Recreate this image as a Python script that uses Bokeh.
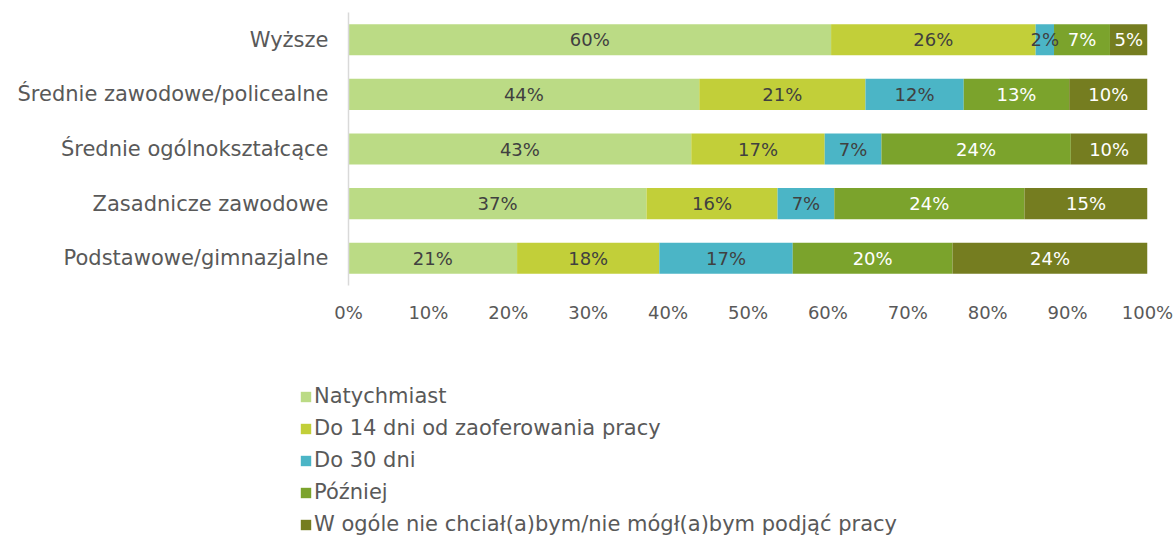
from bokeh.plotting import figure
from bokeh.models import ColumnDataSource, Range1d, FixedTicker, PrintfTickFormatter, Legend, LegendItem
from bokeh.core.properties import value
from bokeh.embed import file_html
from bokeh.resources import INLINE

categories = ["Wyższe", "Średnie zawodowe/policealne", "Średnie ogólnokształcące",
              "Zasadnicze zawodowe", "Podstawowe/gimnazjalne"]
series = ["Natychmiast", "Do 14 dni od zaoferowania pracy", "Do 30 dni", "Później",
          "W ogóle nie chciał(a)bym/nie mógł(a)bym podjąć pracy"]
natychmiast = [60.4, 43.9, 42.9, 37.3, 21.1]
do14 = [25.6, 20.8, 16.7, 16.4, 17.8]
do30 = [2.3, 12.3, 7.1, 7.1, 16.7]
pozniej = [7.0, 13.2, 23.7, 23.8, 20.0]
wogole = [4.7, 9.8, 9.6, 15.4, 24.4]
x_ticks = [0, 10, 20, 30, 40, 50, 60, 70, 80, 90, 100]

colors = ["#BBDB85", "#C2CF39", "#4BB5C6", "#7BA32C", "#757D20"]
text_colors = ["#404040", "#404040", "#404040", "#FFFFFF", "#FFFFFF"]
FONT = "DejaVu Sans"

keys = ["s0", "s1", "s2", "s3", "s4"]
vals = [natychmiast, do14, do30, pozniej, wogole]
data = {"cat": categories}
for k, v in zip(keys, vals):
    data[k] = v
source = ColumnDataSource(data)

p = figure(width=1176, height=330, y_range=list(reversed(categories)),
           x_range=Range1d(0, 100), output_backend="svg", toolbar_location=None,
           min_border_left=348, min_border_right=29, min_border_top=12, min_border_bottom=45)
p.y_range.range_padding = 0

renderers = p.hbar_stack(keys, y="cat", height=0.57, color=colors, line_width=0, source=source)

# segment labels
for i, k in enumerate(keys):
    xs, ys, ts = [], [], []
    for j, c in enumerate(categories):
        left = sum(vals[m][j] for m in range(i))
        xs.append(left + vals[i][j] / 2)
        ys.append(c)
        ts.append(f"{round(vals[i][j])}%")
    p.text(x=xs, y=ys, text=ts, text_align="center", text_baseline="middle",
           text_font_size="18px", text_color=text_colors[i], text_font=value(FONT))

p.xgrid.visible = False
p.ygrid.visible = False
p.outline_line_color = None

p.xaxis.ticker = FixedTicker(ticks=x_ticks)
p.xaxis.formatter = PrintfTickFormatter(format="%d%%")
p.xaxis.axis_line_color = None
p.xaxis.major_tick_line_color = None
p.xaxis.minor_tick_line_color = None
p.xaxis.major_label_text_font_size = "18px"
p.xaxis.major_label_text_color = "#595959"
p.xaxis.major_label_text_font = FONT
p.xaxis.major_label_standoff = 10

p.yaxis.axis_line_color = "#D9D9D9"
p.yaxis.axis_line_width = 1.5
p.yaxis.major_tick_line_color = None
p.yaxis.minor_tick_line_color = None
p.yaxis.major_label_text_font_size = "21px"
p.yaxis.major_label_text_color = "#595959"
p.yaxis.major_label_text_font = FONT
p.yaxis.major_label_standoff = 14

# legend figure (separate root, no frame alignment)
lf = figure(width=1176, height=206, x_range=Range1d(0, 1), y_range=Range1d(0, 1),
            output_backend="svg", toolbar_location=None, x_axis_type=None, y_axis_type=None,
            min_border=0, min_border_left=0, min_border_right=0, min_border_top=0, min_border_bottom=0)
lf.outline_line_color = None
lf.xgrid.visible = False
lf.ygrid.visible = False
dummy = [lf.rect(x=[-10], y=[-10], width=[1], height=[1], fill_color=c, line_color=None)
         for c in colors]
items = [LegendItem(label=s, renderers=[r]) for s, r in zip(series, dummy)]
legend = Legend(items=items, location=(299, 0), orientation="vertical",
                glyph_width=13, glyph_height=13, label_standoff=2,
                label_text_font_size="21px", label_text_color="#595959",
                label_text_font=FONT, label_height=22, spacing=8,
                padding=0, margin=0, border_line_color=None, background_fill_alpha=0)
lf.add_layout(legend, "center")

open("out.html", "w").write(file_html([p, lf], INLINE))
